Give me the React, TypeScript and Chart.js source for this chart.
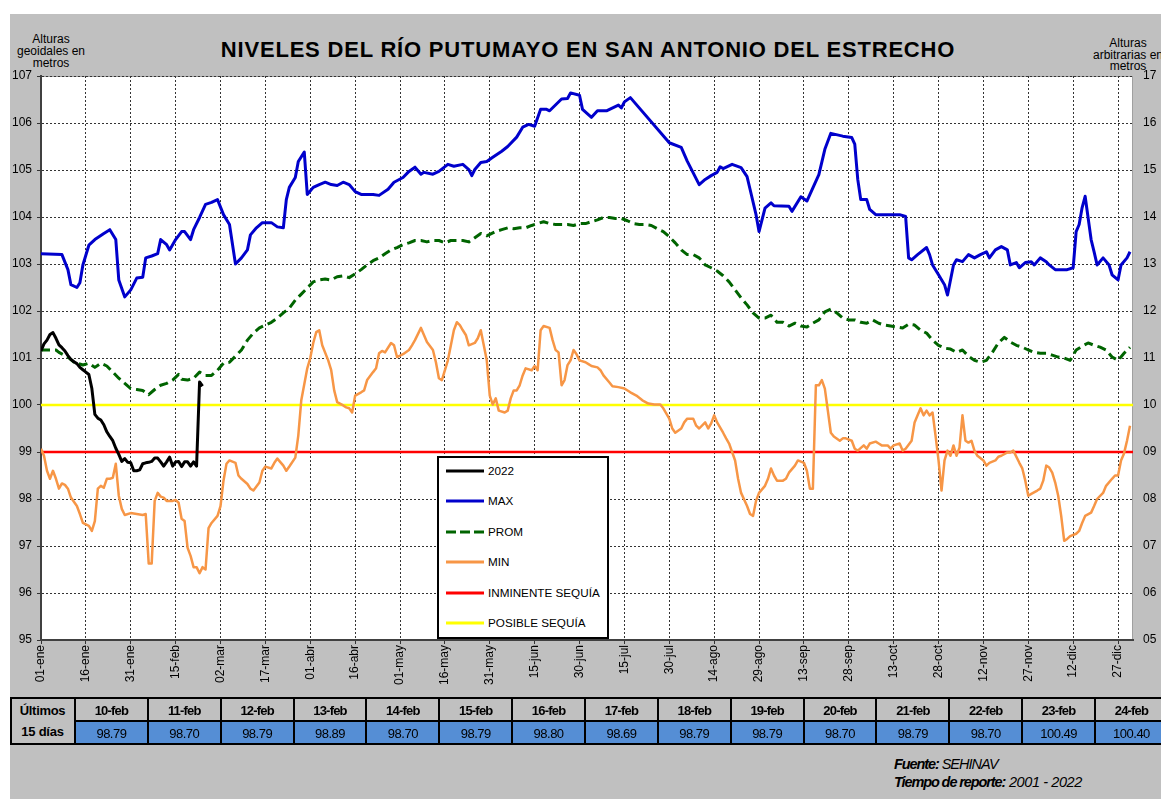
import React, { useEffect, useRef } from 'react';
import { Chart, registerables } from 'chart.js';

Chart.register(...registerables);

const FONT = '"Liberation Sans", Arial, Helvetica, sans-serif';

// ---- axis ticks (day of year) ----
const tickDays = [0, 15, 30, 45, 60, 75, 90, 105, 120, 135, 150, 165, 180, 195, 210, 225, 240, 255, 270, 285, 300, 315, 330, 345, 360];
const tickLabels = ['01-ene', '16-ene', '31-ene', '15-feb', '02-mar', '17-mar', '01-abr', '16-abr', '01-may', '16-may', '31-may', '15-jun', '30-jun', '15-jul', '30-jul', '14-ago', '29-ago', '13-sep', '28-sep', '13-oct', '28-oct', '12-nov', '27-nov', '12-dic', '27-dic'];

// ---- 2022 (daily from 01-ene) ----
const year2022Values = [
  101.15, 101.3, 101.38, 101.5, 101.54, 101.42, 101.28, 101.22, 101.15, 101.05,
  100.97, 100.92, 100.88, 100.8, 100.75, 100.7, 100.65, 100.35, 99.8, 99.72,
  99.68, 99.58, 99.43, 99.33, 99.24, 99.08, 98.95, 98.8, 98.86, 98.78,
  98.77, 98.6, 98.6, 98.62, 98.75, 98.77, 98.78, 98.8, 98.87, 98.87,
  98.79, 98.70, 98.79, 98.89, 98.70, 98.79, 98.80, 98.69, 98.79, 98.79,
  98.70, 98.79, 98.70, 100.49, 100.40,
];

// ---- MAX ----
const maxDays = [0, 7, 9, 10, 12, 13, 14, 16, 18, 21, 23, 25, 26, 28, 30, 32, 34, 35, 37, 39, 40, 42, 43, 45, 47, 48, 50, 51, 53, 55, 57, 59, 61, 63, 65, 67, 69, 70, 72, 74, 77, 79, 81, 82, 83, 85, 86, 88, 89, 91, 93, 95, 97, 99, 101, 103, 105, 107, 111, 113, 116, 118, 121, 123, 125, 127, 128, 131, 133, 136, 138, 141, 143, 144, 145, 147, 149, 151, 154, 156, 159, 161, 163, 165, 167, 169, 170, 174, 176, 177, 180, 181, 184, 186, 189, 193, 194, 195, 197, 210, 214, 216, 220, 222, 224, 226, 227, 228, 231, 234, 236, 237, 239, 240, 242, 244, 245, 250, 251, 254, 256, 258, 260, 262, 264, 268, 271, 272, 273, 274, 276, 277, 279, 284, 287, 289, 290, 291, 293, 296, 297, 298, 300, 302, 303, 305, 306, 308, 310, 312, 314, 316, 317, 319, 321, 323, 324, 326, 327, 329, 331, 332, 334, 336, 337, 339, 343, 345, 346, 347, 348, 349, 351, 352, 353, 355, 357, 358, 360, 361, 363, 364];
const maxValues = [103.22, 103.2, 102.88, 102.56, 102.5, 102.6, 102.98, 103.4, 103.52, 103.65, 103.73, 103.52, 102.66, 102.3, 102.45, 102.7, 102.72, 103.13, 103.17, 103.22, 103.52, 103.41, 103.3, 103.52, 103.69, 103.69, 103.52, 103.73, 103.99, 104.27, 104.31, 104.37, 104.05, 103.84, 103.0, 103.13, 103.3, 103.62, 103.77, 103.88, 103.88, 103.79, 103.77, 104.37, 104.63, 104.84, 105.18, 105.38, 104.48, 104.63, 104.69, 104.74, 104.69, 104.67, 104.74, 104.69, 104.54, 104.48, 104.48, 104.46, 104.59, 104.74, 104.84, 104.97, 105.06, 104.91, 104.95, 104.91, 104.97, 105.12, 105.08, 105.12, 105.01, 104.88, 105.01, 105.16, 105.18, 105.27, 105.4, 105.5, 105.7, 105.91, 105.97, 105.93, 106.29, 106.29, 106.26, 106.51, 106.52, 106.64, 106.59, 106.29, 106.12, 106.26, 106.26, 106.38, 106.32, 106.45, 106.54, 105.58, 105.48, 105.19, 104.69, 104.8, 104.88, 104.95, 105.07, 105.03, 105.12, 105.05, 104.86, 104.59, 104.05, 103.69, 104.19, 104.3, 104.24, 104.23, 104.12, 104.43, 104.34, 104.62, 104.9, 105.44, 105.78, 105.72, 105.69, 105.55, 104.8, 104.37, 104.37, 104.16, 104.05, 104.05, 104.05, 104.01, 103.13, 103.09, 103.2, 103.35, 103.2, 102.98, 102.77, 102.56, 102.34, 102.98, 103.09, 103.05, 103.2, 103.13, 103.2, 103.26, 103.13, 103.3, 103.37, 103.3, 102.98, 103.03, 102.92, 103.03, 103.05, 102.98, 103.13, 103.05, 102.98, 102.88, 102.88, 102.92, 103.69, 103.84, 104.2, 104.44, 103.52, 103.26, 102.98, 103.13, 102.98, 102.77, 102.66, 102.98, 103.13, 103.26];

// ---- PROM ----
const promDays = [0, 5, 6, 9, 11, 14, 16, 18, 20, 22, 24, 26, 28, 30, 32, 34, 36, 38, 40, 42, 44, 46, 47, 49, 51, 53, 55, 57, 59, 61, 63, 65, 67, 69, 71, 73, 75, 77, 79, 81, 83, 85, 87, 89, 91, 93, 95, 97, 99, 101, 103, 105, 107, 109, 111, 113, 115, 117, 119, 121, 123, 125, 127, 129, 131, 133, 135, 137, 139, 141, 143, 145, 147, 149, 152, 154, 156, 158, 160, 162, 164, 166, 168, 170, 172, 174, 176, 178, 180, 182, 184, 186, 188, 190, 192, 194, 196, 198, 200, 202, 204, 206, 208, 210, 212, 214, 216, 218, 220, 222, 224, 226, 228, 230, 232, 234, 236, 238, 240, 242, 244, 246, 248, 250, 252, 254, 256, 258, 260, 262, 264, 266, 268, 270, 272, 274, 276, 278, 280, 282, 284, 286, 288, 290, 292, 294, 296, 298, 300, 302, 304, 306, 308, 310, 312, 314, 316, 318, 320, 322, 324, 326, 328, 330, 332, 334, 336, 338, 340, 342, 344, 346, 348, 350, 352, 354, 356, 358, 360, 362, 364];
const promValues = [101.17, 101.17, 101.12, 101.02, 100.91, 100.85, 100.89, 100.8, 100.89, 100.83, 100.7, 100.57, 100.46, 100.35, 100.33, 100.31, 100.22, 100.33, 100.42, 100.46, 100.53, 100.65, 100.55, 100.53, 100.57, 100.7, 100.63, 100.63, 100.74, 100.89, 100.91, 101.04, 101.17, 101.38, 101.53, 101.64, 101.7, 101.76, 101.85, 101.96, 102.06, 102.23, 102.36, 102.49, 102.62, 102.66, 102.68, 102.66, 102.73, 102.75, 102.71, 102.79, 102.88, 102.98, 103.07, 103.13, 103.22, 103.3, 103.35, 103.41, 103.45, 103.5, 103.5, 103.47, 103.5, 103.5, 103.45, 103.5, 103.5, 103.5, 103.47, 103.56, 103.65, 103.6, 103.69, 103.73, 103.77, 103.75, 103.77, 103.77, 103.82, 103.86, 103.9, 103.86, 103.84, 103.84, 103.84, 103.82, 103.86, 103.86, 103.9, 103.94, 103.99, 103.99, 103.97, 103.97, 103.92, 103.86, 103.84, 103.84, 103.82, 103.75, 103.69, 103.58, 103.45, 103.3, 103.2, 103.2, 103.13, 102.98, 102.92, 102.85, 102.75, 102.62, 102.45, 102.28, 102.13, 101.96, 101.85, 101.85, 101.91, 101.76, 101.76, 101.68, 101.74, 101.68, 101.66, 101.74, 101.81, 101.98, 102.04, 101.96, 101.85, 101.81, 101.81, 101.76, 101.74, 101.81, 101.74, 101.7, 101.68, 101.66, 101.64, 101.72, 101.7, 101.59, 101.53, 101.38, 101.27, 101.21, 101.19, 101.12, 101.17, 101.04, 100.95, 100.91, 100.95, 101.12, 101.32, 101.44, 101.34, 101.27, 101.23, 101.17, 101.12, 101.1, 101.1, 101.06, 101.02, 101.0, 100.95, 101.17, 101.25, 101.32, 101.27, 101.23, 101.17, 101.02, 100.95, 101.1, 101.23];

// ---- MIN ----
const minDays = [0, 1, 2, 3, 4, 5, 6, 7, 8, 9, 10, 12, 13, 14, 16, 17, 18, 19, 20, 21, 22, 23, 24, 25, 26, 27, 28, 30, 32, 34, 35, 36, 37, 38, 39, 40, 41, 42, 44, 45, 46, 47, 48, 49, 50, 51, 52, 53, 54, 55, 56, 57, 59, 60, 61, 62, 63, 65, 66, 67, 69, 70, 71, 73, 74, 75, 77, 78, 79, 81, 82, 83, 85, 86, 87, 89, 90, 91, 92, 93, 94, 96, 97, 98, 99, 101, 102, 103, 104, 105, 107, 108, 109, 111, 112, 113, 114, 115, 117, 118, 119, 121, 123, 124, 125, 127, 128, 129, 131, 132, 133, 134, 136, 137, 138, 139, 140, 141, 142, 143, 145, 146, 147, 148, 149, 150, 151, 152, 153, 155, 156, 157, 158, 159, 160, 161, 162, 164, 165, 166, 167, 168, 170, 171, 172, 173, 174, 175, 176, 177, 178, 179, 180, 182, 183, 184, 186, 187, 188, 190, 191, 193, 195, 197, 199, 201, 203, 205, 207, 208, 210, 211, 212, 214, 215, 216, 218, 219, 220, 222, 223, 224, 225, 226, 228, 229, 230, 232, 233, 234, 236, 237, 238, 239, 240, 242, 243, 244, 245, 246, 248, 249, 250, 252, 253, 255, 256, 257, 258, 259, 260, 261, 262, 263, 264, 265, 267, 268, 269, 271, 272, 273, 275, 276, 277, 279, 280, 281, 283, 284, 285, 287, 288, 289, 291, 292, 293, 294, 295, 296, 297, 298, 299, 300, 301, 302, 303, 304, 305, 306, 307, 308, 309, 310, 311, 312, 313, 315, 316, 317, 319, 320, 321, 323, 324, 325, 327, 328, 329, 330, 331, 333, 334, 335, 336, 337, 338, 339, 340, 341, 342, 343, 344, 346, 347, 348, 349, 351, 352, 353, 355, 356, 358, 359, 360, 361, 362, 363, 364];
const minValues = [99.07, 98.92, 98.6, 98.43, 98.6, 98.43, 98.22, 98.33, 98.3, 98.22, 98.03, 97.85, 97.68, 97.49, 97.43, 97.32, 97.53, 98.22, 98.28, 98.24, 98.43, 98.43, 98.45, 98.75, 98.07, 97.79, 97.66, 97.7, 97.68, 97.66, 97.68, 96.63, 96.63, 97.96, 98.13, 98.05, 98.03, 97.96, 97.96, 97.98, 97.92, 97.58, 97.53, 96.96, 96.79, 96.55, 96.55, 96.42, 96.55, 96.5, 97.38, 97.49, 97.64, 97.85, 98.39, 98.75, 98.82, 98.77, 98.5, 98.43, 98.32, 98.22, 98.18, 98.35, 98.6, 98.69, 98.65, 98.77, 98.86, 98.71, 98.6, 98.69, 98.88, 99.35, 100.1, 100.78, 101.0, 101.32, 101.55, 101.59, 101.27, 100.95, 100.74, 100.31, 100.06, 99.99, 99.95, 99.93, 99.84, 100.2, 100.27, 100.31, 100.53, 100.7, 100.78, 101.1, 101.15, 101.12, 101.32, 101.27, 101.02, 101.08, 101.17, 101.27, 101.38, 101.64, 101.49, 101.34, 101.17, 100.91, 100.57, 100.53, 100.95, 101.27, 101.59, 101.76, 101.7, 101.59, 101.49, 101.27, 101.32, 101.42, 101.59, 101.27, 100.95, 100.2, 100.01, 100.14, 99.88, 99.84, 99.88, 100.14, 100.31, 100.31, 100.42, 100.63, 100.78, 100.74, 100.83, 100.74, 101.59, 101.68, 101.64, 101.38, 101.17, 101.12, 100.42, 100.53, 100.85, 100.95, 101.17, 101.08, 100.95, 100.91, 100.87, 100.83, 100.8, 100.74, 100.63, 100.48, 100.4, 100.38, 100.35, 100.27, 100.2, 100.1, 100.03, 100.01, 100.01, 99.93, 99.71, 99.5, 99.41, 99.5, 99.63, 99.71, 99.71, 99.56, 99.5, 99.63, 99.5, 99.61, 99.78, 99.63, 99.41, 99.29, 99.18, 98.82, 98.43, 98.13, 97.85, 97.68, 97.64, 97.96, 98.13, 98.28, 98.43, 98.65, 98.5, 98.39, 98.39, 98.43, 98.56, 98.71, 98.82, 98.77, 98.6, 98.22, 98.22, 100.42, 100.42, 100.53, 100.35, 99.88, 99.41, 99.33, 99.24, 99.29, 99.29, 99.24, 99.07, 99.03, 99.14, 99.07, 99.18, 99.22, 99.18, 99.14, 99.14, 99.07, 99.14, 99.18, 99.03, 99.07, 99.24, 99.63, 99.78, 99.93, 99.78, 99.88, 99.78, 99.84, 99.35, 98.82, 98.18, 98.82, 99.03, 98.92, 99.14, 98.92, 99.09, 99.78, 99.24, 99.2, 99.24, 99.03, 98.92, 98.82, 98.71, 98.77, 98.82, 98.9, 98.92, 98.99, 98.99, 99.03, 98.77, 98.65, 98.39, 98.07, 98.11, 98.18, 98.22, 98.39, 98.71, 98.67, 98.56, 98.35, 98.07, 97.64, 97.11, 97.15, 97.21, 97.26, 97.32, 97.49, 97.64, 97.71, 97.85, 98.0, 98.13, 98.28, 98.43, 98.5, 98.5, 98.82, 98.97, 99.24, 99.56];

// ---- thresholds ----
const inminenteSequia = 99;
const posibleSequia = 100;
const yearEndDay = 365;

// ---- last 15 days table ----
const tableDates = ['10-feb', '11-feb', '12-feb', '13-feb', '14-feb', '15-feb', '16-feb', '17-feb', '18-feb', '19-feb', '20-feb', '21-feb', '22-feb', '23-feb', '24-feb'];
const tableValues = [98.79, 98.70, 98.79, 98.89, 98.70, 98.79, 98.80, 98.69, 98.79, 98.79, 98.70, 98.79, 98.70, 100.49, 100.40];

const toPoints = (days: number[], values: number[]) => days.map((d, i) => ({ x: d, y: values[i] }));

const series = [
  { label: '2022', color: '#000000', width: 3, dash: [] as number[], data: toPoints(year2022Values.map((_, i) => i), year2022Values) },
  { label: 'MAX', color: '#0000CC', width: 3, dash: [] as number[], data: toPoints(maxDays, maxValues) },
  { label: 'PROM', color: '#006400', width: 3, dash: [9, 5], data: toPoints(promDays, promValues) },
  { label: 'MIN', color: '#F79646', width: 2.5, dash: [] as number[], data: toPoints(minDays, minValues) },
  { label: 'INMINENTE SEQUÍA', color: '#FF0000', width: 2.5, dash: [] as number[], data: [{ x: 0, y: inminenteSequia }, { x: yearEndDay, y: inminenteSequia }] },
  { label: 'POSIBLE SEQUÍA', color: '#FFFF00', width: 2.5, dash: [] as number[], data: [{ x: 0, y: posibleSequia }, { x: yearEndDay, y: posibleSequia }] },
];

const plotBg = {
  id: 'plotBg',
  beforeDraw(chart: any) {
    const { ctx, chartArea: a } = chart;
    ctx.save();
    ctx.fillStyle = '#ffffff';
    ctx.fillRect(a.left, a.top, a.right - a.left, a.bottom - a.top);
    ctx.strokeStyle = '#a0a0a0';
    ctx.lineWidth = 1;
    ctx.strokeRect(a.left + 0.5, a.top + 0.5, a.right - a.left - 1, a.bottom - a.top - 1);
    ctx.restore();
  },
};

const gridStyle = {
  color: '#333333',
  lineWidth: 1,
  tickLength: 4,
  tickColor: '#333333',
  tickWidth: 1,
  tickBorderDash: [] as number[],
};

export default function App() {
  const canvasRef = useRef<HTMLCanvasElement>(null);

  useEffect(() => {
    const canvas = canvasRef.current;
    if (!canvas) return;
    Chart.defaults.font.family = FONT;
    const chart = new Chart(canvas, {
      type: 'line',
      data: {
        datasets: series.map((s) => ({
          label: s.label,
          data: s.data,
          borderColor: s.color,
          backgroundColor: s.color,
          borderWidth: s.width,
          borderDash: s.dash,
          pointRadius: 0,
          pointHoverRadius: 0,
          fill: false,
          tension: 0,
          borderJoinStyle: 'round' as const,
          yAxisID: 'y',
        })),
      },
      options: {
        animation: false,
        responsive: false,
        maintainAspectRatio: false,
        layout: { padding: { top: 76, left: 0, right: 0, bottom: 0 } },
        plugins: { legend: { display: false }, title: { display: false }, tooltip: { enabled: false } },
        scales: {
          x: {
            type: 'linear',
            position: 'bottom',
            min: 0,
            max: yearEndDay,
            afterBuildTicks: (s: any) => {
              s.ticks = tickDays.map((v) => ({ value: v }));
            },
            afterFit: (s: any) => {
              s.height = 60;
            },
            ticks: {
              autoSkip: false,
              minRotation: 90,
              maxRotation: 90,
              padding: 1,
              color: '#000000',
              font: { size: 12, family: FONT },
              callback: (v: any) => tickLabels[tickDays.indexOf(Number(v))] ?? '',
            },
            grid: gridStyle,
            border: { display: true, color: '#404040', width: 2, dash: [2, 2] },
          },
          y: {
            position: 'left',
            min: 95,
            max: 107,
            afterFit: (s: any) => {
              s.width = 41;
            },
            ticks: { stepSize: 1, padding: 5, color: '#000000', font: { size: 12, family: FONT } },
            grid: gridStyle,
            border: { display: true, color: '#404040', width: 2, dash: [2, 2] },
          },
          y2: {
            position: 'right',
            min: 5,
            max: 17,
            afterFit: (s: any) => {
              s.width = 28;
            },
            ticks: {
              stepSize: 1,
              padding: 2,
              color: '#000000',
              font: { size: 12, family: FONT },
              callback: (v: any) => String(v).padStart(2, '0'),
            },
            grid: { display: false, drawOnChartArea: false },
            border: { display: false },
          },
        },
      },
      plugins: [plotBg],
    });
    return () => chart.destroy();
  }, []);

  const colLeft = 75;
  const colW = 72.86;

  return (
    <div style={{ position: 'absolute', left: 0, top: 0, width: 1161, height: 799, overflow: 'hidden', background: '#ffffff', fontFamily: FONT, color: '#000' }}>
      <div style={{ position: 'absolute', left: 10, top: 14, width: 1151, height: 785, background: '#C0C0C0' }} />
      <div style={{ position: 'absolute', left: 588, top: 38.7, transform: 'translateX(-50%)', whiteSpace: 'nowrap', fontWeight: 'bold', fontSize: 22, lineHeight: '22px', letterSpacing: '0.8px' }}>
        NIVELES DEL RÍO PUTUMAYO EN SAN ANTONIO DEL ESTRECHO
      </div>
      <div style={{ position: 'absolute', left: 0, top: 33.4, width: 102, textAlign: 'center', fontSize: 12, lineHeight: '12px' }}>
        Alturas<br />geoidales en<br />metros
      </div>
      <div style={{ position: 'absolute', left: 1078, top: 38, width: 100, textAlign: 'center', fontSize: 12, lineHeight: '11.5px' }}>
        Alturas<br />arbitrarias en<br />metros
      </div>
      <canvas ref={canvasRef} width={1161} height={700} style={{ position: 'absolute', left: 0, top: 0, width: 1161, height: 700 }} />

      {/* legend */}
      <div style={{ position: 'absolute', left: 437, top: 456, width: 172, height: 183, boxSizing: 'border-box', border: '2px solid #000', background: '#fff' }}>
        {series.map((s, i) => (
          <div key={s.label} style={{ position: 'absolute', left: 7, top: 13 + 30.4 * i - 8, height: 16, display: 'flex', alignItems: 'center', whiteSpace: 'nowrap' }}>
            <svg width={40} height={6} style={{ display: 'block' }}>
              <line x1={0} y1={3} x2={38} y2={3} stroke={s.color} strokeWidth={3} strokeDasharray={s.dash.length ? '10 4' : undefined} />
            </svg>
            <span style={{ marginLeft: 2, fontSize: 11.7, lineHeight: '16px' }}>{s.label}</span>
          </div>
        ))}
      </div>

      {/* table */}
      <div style={{ position: 'absolute', left: 10, top: 697, width: 65, height: 48, boxSizing: 'border-box', border: '1px solid #000', background: '#C0C0C0', display: 'flex', flexDirection: 'column', justifyContent: 'center', alignItems: 'center', fontWeight: 'bold', fontSize: 13, lineHeight: '21.5px' }}>
        <span style={{ letterSpacing: '-0.3px' }}>Últimos</span>
        <span style={{ letterSpacing: '-0.2px' }}>15 días</span>
      </div>
      {tableDates.map((d, i) => (
        <React.Fragment key={d}>
          <div style={{ position: 'absolute', left: colLeft + colW * i, top: 697, width: colW, height: 24, boxSizing: 'border-box', border: '1px solid #000', background: '#C0C0C0', display: 'flex', alignItems: 'center', justifyContent: 'center', fontWeight: 'bold', fontSize: 13, letterSpacing: '-0.8px', paddingTop: 2 }}>
            {d}
          </div>
          <div style={{ position: 'absolute', left: colLeft + colW * i, top: 721, width: colW, height: 24, boxSizing: 'border-box', border: '1px solid #000', background: '#558ED5', display: 'flex', alignItems: 'center', justifyContent: 'center', fontSize: 13, letterSpacing: '-0.5px' }}>
            {tableValues[i].toFixed(2)}
          </div>
        </React.Fragment>
      ))}
      <div style={{ position: 'absolute', left: 10, top: 697, width: 1165, height: 48, boxSizing: 'border-box', border: '2px solid #000', pointerEvents: 'none' }} />

      {/* footer */}
      <div style={{ position: 'absolute', left: 894, top: 755, fontSize: 14.5, lineHeight: '18px', fontStyle: 'italic', whiteSpace: 'nowrap' }}>
        <div><span style={{ fontWeight: 'bold', letterSpacing: '-1.1px' }}>Fuente:</span><span style={{ letterSpacing: '-1px' }}> SEHINAV</span></div>
        <div><span style={{ fontWeight: 'bold', letterSpacing: '-1.1px' }}>Tiempo de reporte:</span><span style={{ letterSpacing: '-0.4px' }}> 2001 - 2022</span></div>
      </div>
    </div>
  );
}
